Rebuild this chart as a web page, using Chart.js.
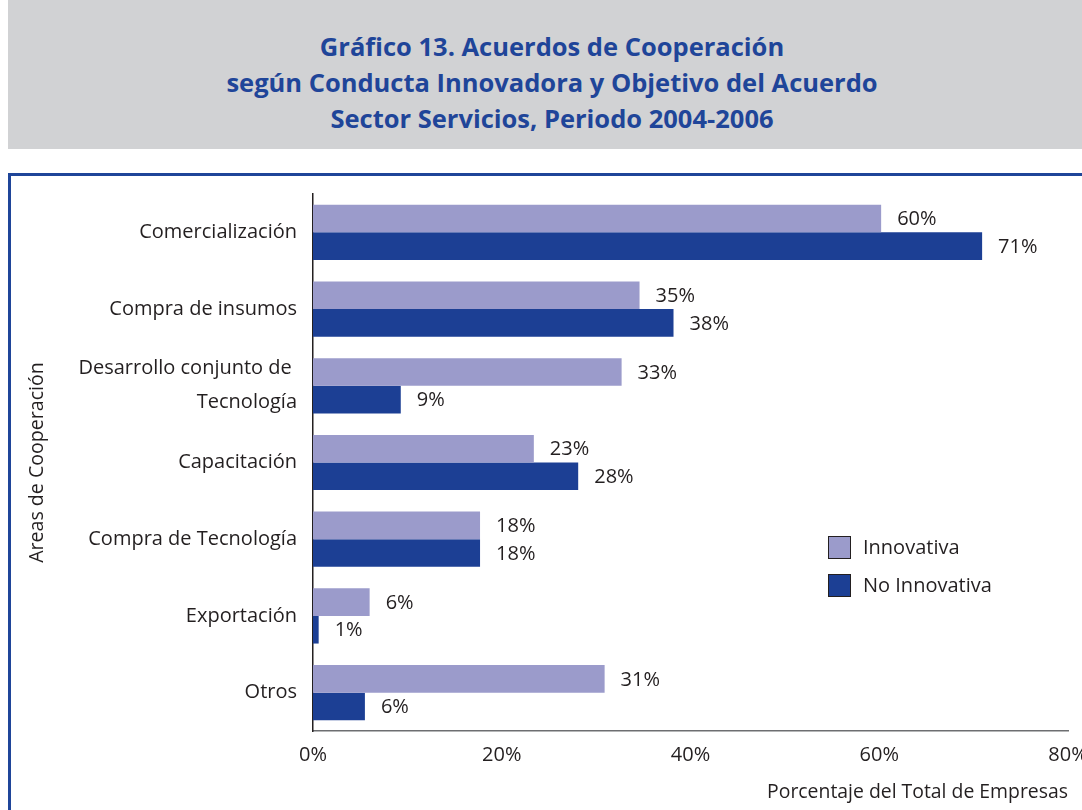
<!DOCTYPE html>
<html>
<head>
<meta charset="utf-8">
<script src="https://cdn.jsdelivr.net/npm/chart.js@4"></script>
<style>
    html, body { margin: 0; padding: 0; width: 1082px; height: 810px; overflow: hidden; background: #fff; }
    #titleBox {
        position: absolute; left: 8px; top: 0; width: 1074px; height: 149px;
        background: #d1d2d4; color: #1f4599;
        font-family: "Open Sans", sans-serif; font-weight: bold; font-size: 25.5px;
        line-height: 36px; text-align: center; box-sizing: border-box; padding: 28px 0 0 14px;
    }
    #frame {
        position: absolute; left: 8px; top: 173px; width: 1100px; height: 700px;
        border-left: 3px solid #1f4599; border-top: 3px solid #1f4599;
    }
    #chart { position: absolute; left: 0; top: 0; }
    .legend { position: absolute; left: 828px; font-family: "Open Sans", sans-serif; font-size: 20px; color: #231f20; }
    .legend span.box {
        position: absolute; left: 0; top: 0; width: 21px; height: 21px;
        border: 1.5px solid #231f20;
    }
    .legend span.txt { position: absolute; left: 35px; top: -3px; white-space: nowrap; }
</style>
</head>
<body>
<div id="titleBox">Gráfico 13. Acuerdos de Cooperación<br>según Conducta Innovadora y Objetivo del Acuerdo<br>Sector Servicios, Periodo 2004-2006</div>
<div id="frame"></div>
<canvas id="chart" width="1120" height="810"></canvas>
<div id="legend"></div>
<script>
const categories = [
    "Comercialización",
    "Compra de insumos",
    ["Desarrollo conjunto de ", "Tecnología"],
    "Capacitación",
    "Compra de Tecnología",
    "Exportación",
    "Otros",
];
const innovativa = [60.2, 34.6, 32.7, 23.4, 17.7, 6.0, 30.9];
const noInnovativa = [70.9, 38.2, 9.3, 28.1, 17.7, 0.6, 5.5];
const xTicks = [0, 20, 40, 60, 80];

const seriesNames = ["Innovativa", "No Innovativa"];
const seriesColors = ["#9b9bcb", "#1c3f94"];
const textColor = "#231f20";
const fontFamily = "'Open Sans', sans-serif";
const fontSize = 20;

// value labels at the end of each bar
const barLabels = {
    id: "barLabels",
    afterDatasetsDraw(chart) {
        const ctx = chart.ctx;
        ctx.save();
        ctx.font = fontSize + "px " + fontFamily;
        ctx.fillStyle = textColor;
        ctx.textAlign = "left";
        ctx.textBaseline = "middle";
        chart.data.datasets.forEach((ds, i) => {
            chart.getDatasetMeta(i).data.forEach((bar, j) => {
                ctx.fillText(Math.round(ds.data[j]) + "%", bar.x + 16, bar.y + 1);
            });
        });
        ctx.restore();
    },
};

function buildLegend() {
    const el = document.getElementById("legend");
    el.innerHTML = seriesNames
        .map(
            (name, i) => `
        <div class="legend" style="top:${536 + i * 38}px">
            <span class="box" style="background:${seriesColors[i]}"></span>
            <span class="txt">${name}</span>
        </div>`,
        )
        .join("");
}

function initChart() {
    const ctx = document.getElementById("chart").getContext("2d");
    new Chart(ctx, {
        type: "bar",
        data: {
            labels: categories,
            datasets: [
                { label: seriesNames[0], data: innovativa, backgroundColor: seriesColors[0] },
                { label: seriesNames[1], data: noInnovativa, backgroundColor: seriesColors[1] },
            ],
        },
        options: {
            indexAxis: "y",
            responsive: false,
            animation: false,
            layout: { padding: { top: 194, left: 0, right: 52, bottom: 0 } },
            datasets: { bar: { barPercentage: 1, categoryPercentage: 0.72 } },
            plugins: { legend: { display: false }, tooltip: { enabled: false } },
            scales: {
                x: {
                    min: 0,
                    max: 80,
                    afterBuildTicks: (scale) => {
                        scale.ticks = xTicks.map((v) => ({ value: v }));
                    },
                    afterFit: (scale) => { scale.height = 79; },
                    grid: { display: false, drawTicks: false },
                    border: { display: true, color: "#6d6e71", width: 1.5 },
                    ticks: {
                        padding: 12,
                        color: textColor,
                        font: { family: fontFamily, size: fontSize },
                        maxRotation: 0,
                        callback: (v) => v + "%",
                    },
                    title: {
                        display: true,
                        text: "Porcentaje del Total de Empresas",
                        align: "end",
                        color: textColor,
                        font: { family: fontFamily, size: 19.4 },
                        padding: { top: 0, bottom: 6 },
                    },
                },
                y: {
                    afterFit: (scale) => { scale.width = 313; },
                    grid: { display: false, drawTicks: false },
                    border: { display: true, color: textColor, width: 1.5 },
                    ticks: {
                        padding: 16,
                        color: textColor,
                        font: { family: fontFamily, size: fontSize, lineHeight: 1.7 },
                    },
                    title: {
                        display: true,
                        text: "Areas de Cooperación",
                        color: textColor,
                        font: { family: fontFamily, size: 19.6 },
                        padding: { top: 26, bottom: 0 },
                    },
                },
            },
        },
        plugins: [barLabels],
    });
}

buildLegend();
initChart();
</script>
</body>
</html>
